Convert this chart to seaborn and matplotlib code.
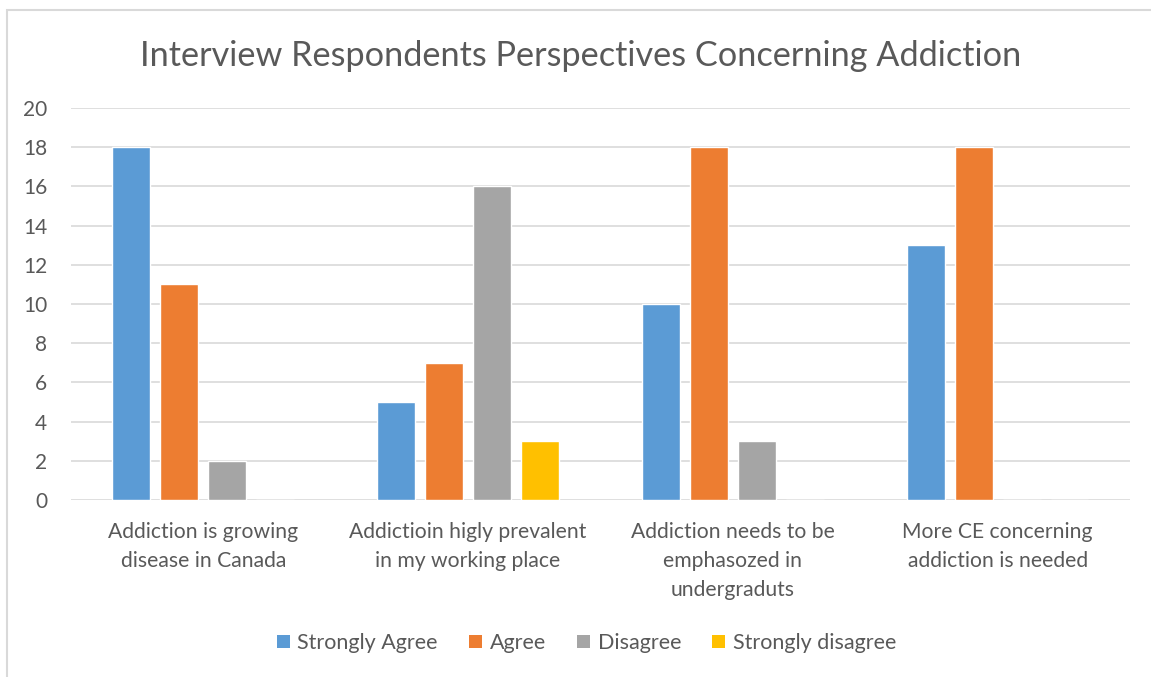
import matplotlib
matplotlib.use("Agg")
import matplotlib.pyplot as plt
import seaborn as sns
import pandas as pd
from matplotlib.patches import Rectangle, Patch

categories = [
    "Addiction is growing\ndisease in Canada",
    "Addictioin higly prevalent\nin my working place",
    "Addiction needs to be\nemphasozed in\nundergraduts",
    "More CE concerning\naddiction is needed",
]
series = ["Strongly Agree", "Agree", "Disagree", "Strongly disagree"]
strongly_agree = [18, 5, 10, 13]
agree = [11, 7, 18, 18]
disagree = [2, 16, 3, 0]
strongly_disagree = [0, 3, 0, 0]
colors = ["#5B9BD5", "#ED7D31", "#A5A5A5", "#FFC000"]
yticks = [0, 2, 4, 6, 8, 10, 12, 14, 16, 18, 20]
title = "Interview Respondents Perspectives Concerning Addiction"

rows = []
for s, vals in zip(series, [strongly_agree, agree, disagree, strongly_disagree]):
    for c, v in zip(categories, vals):
        rows.append({"category": c, "series": s, "value": v})
df = pd.DataFrame(rows)

sns.set_theme(style="white")
plt.rcParams["font.family"] = ["Lato", "DejaVu Sans"]
text_color = "#595959"

fig = plt.figure(figsize=(11.51, 6.77), dpi=100)
ax = fig.add_axes([0.0617, 0.2614, 0.92, 0.5791])

sns.barplot(data=df, x="category", y="value", hue="series", hue_order=series,
            order=categories, palette=colors, width=0.725, gap=0.21,
            saturation=1, ax=ax, legend=False, errorbar=None)

ax.set_ylim(0, 20)
ax.set_xlim(-0.5, 3.5)
ax.set_yticks(yticks)
ax.set_yticklabels([str(t) for t in yticks])
ax.yaxis.grid(True, color="#D9D9D9", linewidth=1.2)
ax.set_axisbelow(True)
for sp in ax.spines.values():
    sp.set_visible(False)
ax.set_xlabel("")
ax.set_ylabel("")
ax.tick_params(axis="y", length=0, pad=17, labelsize=15, labelcolor=text_color)
ax.tick_params(axis="x", length=0, pad=16, labelsize=15.2, labelcolor=text_color)
for lbl in ax.get_xticklabels():
    lbl.set_linespacing(1.55)

fig.text(0.5045, 0.918, title, ha="center", va="center", fontsize=24.7, color=text_color)

handles = [Patch(facecolor=c, edgecolor="none", label=s) for s, c in zip(series, colors)]
leg = fig.legend(handles=handles, loc="center", bbox_to_anchor=(0.5096, 0.050), ncol=4,
                 frameon=False, fontsize=15.5, handlelength=0.6, handleheight=0.6,
                 handletextpad=0.35, columnspacing=1.45)
for t in leg.get_texts():
    t.set_color(text_color)

fig.patches.append(Rectangle((7 / 1151, -0.1), 1.2, 1 - 9.5 / 677 + 0.1,
                             transform=fig.transFigure, fill=False,
                             edgecolor="#D9D9D9", linewidth=1.5))

fig.savefig("out.png", dpi=100)
